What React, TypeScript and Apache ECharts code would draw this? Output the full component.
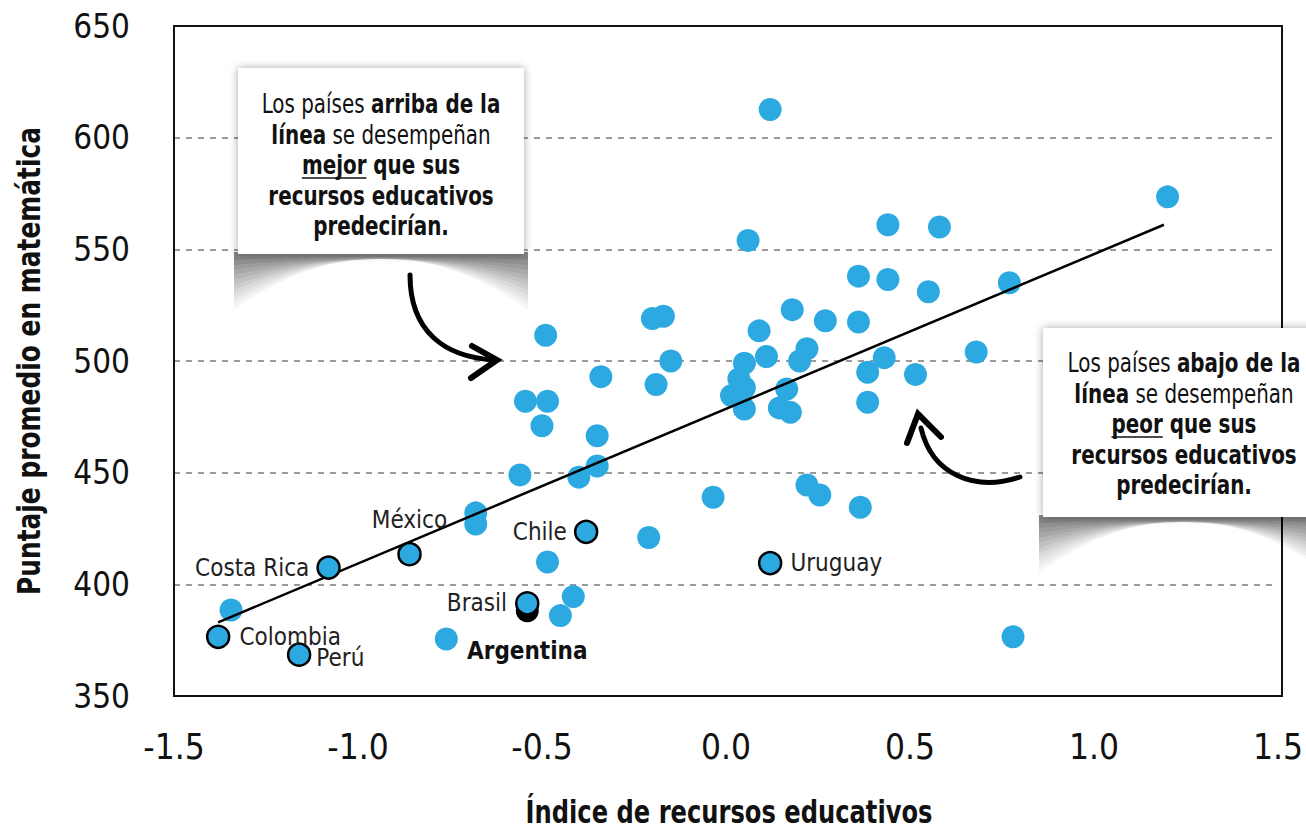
import React, { useEffect, useRef } from 'react';
import * as echarts from 'echarts';

const COND = "'Liberation Sans Narrow', 'DejaVu Sans Condensed', 'Roboto Condensed', 'Arial Narrow', sans-serif";
const BLUE = '#2DA9E1';

// Other countries (index of educational resources, average math score)
const otherX = [0.12, 1.2, 0.44, 0.58, 0.06, 0.36, 0.44, 0.77, 0.55, 0.18, -0.17, -0.2, 0.27, 0.36, 0.09, -0.49, 0.22, 0.68, 0.11, 0.43, 0.2, 0.05, -0.15, 0.385, 0.515, -0.34, 0.035, -0.19, 0.05, 0.165, 0.015, -0.545, -0.485, 0.385, 0.145, 0.05, 0.175, -0.5, -0.35, -0.35, -0.56, -0.4, 0.22, 0.255, -0.035, 0.365, -0.68, -0.68, -0.21, -0.485, -1.345, -0.415, -0.45, -0.76, 0.78];
const otherY = [612.6, 573.5, 561, 560, 554, 538, 536.5, 535, 531, 523, 520, 519, 518, 517.5, 513.5, 511.5, 505.5, 504, 502, 501.5, 500, 499, 500, 495, 494, 493, 492, 489.5, 488, 487.5, 484.5, 482, 482, 481.5, 479, 478.5, 477, 471, 466.5, 453, 449, 448, 444.5, 440, 439, 434.5, 432, 427, 421, 410, 388.5, 394.5, 386, 375.5, 376.5];

// Highlighted Latin American countries
const latamNames = ['Costa Rica', 'México', 'Chile', 'Brasil', 'Colombia', 'Perú', 'Uruguay'];
const latamX = [-1.08, -0.86, -0.38, -0.54, -1.38, -1.16, 0.12];
const latamY = [407.5, 413.5, 423.5, 391.5, 376.5, 368.5, 409.5];

const argentinaName = 'Argentina';
const argentinaX = -0.54;
const argentinaY = 388.2;

// Regression line end points
const trendX = [-1.38, 1.19];
const trendY = [383, 561];

const xTicks = { min: -1.5, max: 1.5, interval: 0.5 };
const yTicks = { min: 350, max: 650, interval: 50 };

const labelPlacement: Record<string, any> = {
  'Costa Rica': { position: 'left', distance: 7 },
  'México': { position: 'top', distance: 10 },
  'Chile': { position: 'left', distance: 7 },
  'Brasil': { position: 'left', distance: 8 },
  'Colombia': { position: 'right', distance: 9 },
  'Perú': { position: 'right', distance: 5, offset: [0, 3] },
  'Uruguay': { position: 'right', distance: 8 },
};

// soft "curled paper" shadow: stacked translucent layers [bottom height, curve control, alpha]
const CURL_LAYERS: [number, number, number][] = [
  [58, -46, 0.035],
  [53, -40, 0.035],
  [48, -34, 0.04],
  [43, -29, 0.045],
  [38, -24, 0.05],
  [33, -19, 0.055],
  [28, -14, 0.06],
  [23, -9, 0.065],
  [18, -5, 0.07],
  [13, -1, 0.075],
  [8, 2, 0.08],
];
CURL_LAYERS.forEach(([hgt, c], i) => {
  try {
    echarts.graphic.registerShape(
      'curl' + i,
      (echarts.graphic as any).extendPath(`M0 0 L100 0 L100 ${hgt} Q50 ${c} 0 ${hgt} Z`, {})
    );
  } catch (e) {}
});

const BOX_FONT = 27;
const BOX_SX = 0.82;
const BOX_LH = 30.5;

function measure(text: string, weight: string) {
  const c = document.createElement('canvas').getContext('2d')!;
  c.font = `${weight} ${BOX_FONT}px ${COND}`;
  return c.measureText(text).width;
}

function callout(x: number, y: number, w: number, h: number, cx: number, cy: number, lines: string, ulWord: string, ulLine: string) {
  const lineW = measure(ulLine, 'bold') * BOX_SX;
  const wordW = measure(ulWord, 'bold') * BOX_SX;
  const ulLeft = cx - lineW / 2;
  const ulY = cy + 13;
  const shadows = CURL_LAYERS.map((l, i) => ({
    type: 'curl' + i, x: x - 4, y: y + h - 2, scaleX: (w + 8) / 100, scaleY: 1, z: 90, silent: true,
    style: { fill: `rgba(0,0,0,${l[2]})` },
  }));
  return [
    ...shadows,
    {
      type: 'rect', shape: { x, y, width: w, height: h }, z: 91,
      style: { fill: '#fff', shadowBlur: 8, shadowColor: 'rgba(0,0,0,0.35)' },
    },
    {
      type: 'text', x: cx, y: cy, z: 92, scaleX: BOX_SX,
      style: {
        text: lines,
        align: 'center', verticalAlign: 'middle',
        fill: '#111',
        rich: {
          r: { fontFamily: COND, fontSize: BOX_FONT, fontWeight: 'normal', lineHeight: BOX_LH, align: 'center', fill: '#111' },
          b: { fontFamily: COND, fontSize: BOX_FONT, fontWeight: 'bold', lineHeight: BOX_LH, align: 'center', fill: '#111' },
        },
      },
    },
    {
      type: 'line', z: 93,
      shape: { x1: ulLeft, y1: ulY, x2: ulLeft + wordW, y2: ulY },
      style: { stroke: '#111', lineWidth: 1.5 },
    },
  ];
}

export default function App() {
  const ref = useRef<HTMLDivElement>(null);
  useEffect(() => {
    const chart = echarts.init(ref.current!, null, { renderer: 'svg' });
    const others = otherX.map((x, i) => [x, otherY[i]]);
    const latam = latamNames.map((n, i) => ({
      name: n,
      value: [latamX[i], latamY[i]],
      label: { show: true, formatter: n, ...labelPlacement[n] },
    }));
    const G = { left: 174, top: 26, width: 1108, height: 670 };
    const option: any = {
      animation: false,
      backgroundColor: '#fff',
      grid: { ...G, show: false },
      xAxis: {
        type: 'value', ...xTicks,
        axisLine: { show: false }, axisTick: { show: false }, splitLine: { show: false },
        axisLabel: { formatter: (v: number) => v.toFixed(1), fontFamily: COND, fontSize: 35, color: '#111', margin: 33 },
      },
      yAxis: {
        type: 'value', ...yTicks,
        axisLine: { show: false }, axisTick: { show: false },
        splitLine: { show: true, showMinLine: false, showMaxLine: false, lineStyle: { color: '#999', width: 2, type: [6, 6] } },
        axisLabel: { fontFamily: COND, fontSize: 33, color: '#111', margin: 44 },
      },
      series: [
        {
          type: 'scatter', data: others, symbolSize: 23, z: 2,
          itemStyle: { color: BLUE, opacity: 1 },
        },
        {
          type: 'line', data: trendX.map((x, i) => [x, trendY[i]]), symbol: 'none', z: 3,
          lineStyle: { color: '#000', width: 2.5 },
        },
        {
          type: 'scatter', z: 4, symbolSize: 23,
          data: [{ name: argentinaName, value: [argentinaX, argentinaY] }],
          itemStyle: { color: '#000', opacity: 1 },
          label: { show: true, formatter: argentinaName, position: 'bottom', distance: 17, fontFamily: COND, fontSize: 24, fontWeight: 'bold', color: '#111' },
        },
        {
          type: 'scatter', z: 5, symbolSize: 22, data: latam,
          itemStyle: { color: BLUE, borderColor: '#000', borderWidth: 2.5, opacity: 1 },
          label: { fontFamily: COND, fontSize: 24, color: '#222' },
        },
      ],
      graphic: {
        elements: [
          {
            type: 'rect', z: 50, silent: true,
            shape: { x: G.left, y: G.top, width: G.width, height: G.height },
            style: { fill: null, stroke: '#111', lineWidth: 2 },
          },
          {
            type: 'text', x: 29, y: 361, rotation: Math.PI / 2, scaleX: 0.865,
            style: { text: 'Puntaje promedio en matemática', fontFamily: COND, fontSize: 32, fontWeight: 'bold', fill: '#111', align: 'center', verticalAlign: 'middle' },
          },
          {
            type: 'text', x: 729, y: 812, scaleX: 0.84,
            style: { text: 'Índice de recursos educativos', fontFamily: COND, fontSize: 32, fontWeight: 'bold', fill: '#111', align: 'center', verticalAlign: 'middle' },
          },
          ...callout(238, 68, 286, 186, 381, 165,
            '{r|Los países }{b|arriba de la}\n{b|línea}{r| se desempeñan}\n{b|mejor que sus}\n{b|recursos educativos}\n{b|predecirían.}',
            'mejor', 'mejor que sus'),
          ...callout(1043, 328, 280, 189, 1184, 424,
            '{r|Los países }{b|abajo de la}\n{b|línea}{r| se desempeñan}\n{b|peor que sus}\n{b|recursos educativos}\n{b|predecirían.}',
            'peor', 'peor que sus'),
          {
            type: 'bezierCurve', z: 95,
            shape: { x1: 410, y1: 275, cpx1: 410, cpy1: 332, cpx2: 445, cpy2: 357, x2: 494, y2: 360 },
            style: { stroke: '#000', lineWidth: 5, fill: null, lineCap: 'round' },
          },
          {
            type: 'polyline', z: 95,
            shape: { points: [[472, 346], [497, 360], [471, 378]] },
            style: { stroke: '#000', lineWidth: 6, fill: null, lineCap: 'round', lineJoin: 'miter' },
          },
          {
            type: 'bezierCurve', z: 95,
            shape: { x1: 1020, y1: 477, cpx1: 975, cpy1: 492, cpx2: 932, cpy2: 475, x2: 921, y2: 428 },
            style: { stroke: '#000', lineWidth: 5, fill: null, lineCap: 'round' },
          },
          {
            type: 'polyline', z: 95,
            shape: { points: [[907, 443], [918, 414], [941, 437]] },
            style: { stroke: '#000', lineWidth: 6, fill: null, lineCap: 'round', lineJoin: 'miter' },
          },
        ],
      },
    };
    chart.setOption(option);
    return () => chart.dispose();
  }, []);
  return <div ref={ref} style={{ position: 'fixed', left: 0, top: 0, width: 1306, height: 832, background: '#fff' }} />;
}
